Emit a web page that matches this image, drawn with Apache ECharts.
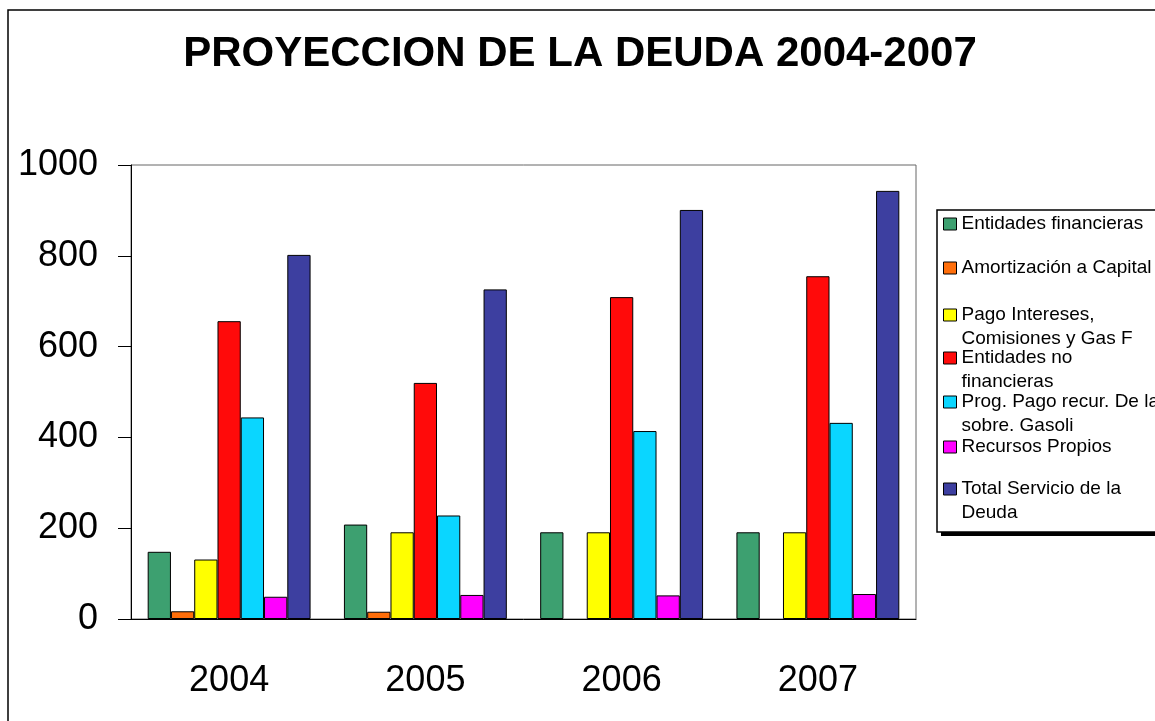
<!DOCTYPE html>
<html>
<head>
<meta charset="utf-8">
<script src="https://cdn.jsdelivr.net/npm/echarts@6/dist/echarts.min.js"></script>
<style>
html,body{margin:0;padding:0;background:#fff;}
#chart{width:1155px;height:721px;}
</style>
</head>
<body>
<div id="chart"></div>
<script>
const years = ['2004', '2005', '2006', '2007'];
const yTicks = [0, 200, 400, 600, 800, 1000];
const seriesNames = [
  'Entidades financieras',
  'Amortización a Capital',
  'Pago Intereses, Comisiones y Gas F',
  'Entidades no financieras',
  'Prog. Pago recur. De la sobre. Gasoli',
  'Recursos Propios',
  'Total Servicio de la Deuda'
];
const legendLines = [
  ['Entidades financieras'],
  ['Amortización a Capital'],
  ['Pago Intereses,', 'Comisiones y Gas F'],
  ['Entidades no', 'financieras'],
  ['Prog. Pago recur. De la', 'sobre. Gasoli'],
  ['Recursos Propios'],
  ['Total Servicio de la', 'Deuda']
];
const entidadesFinancieras = [148, 208, 191, 191];
const amortizacionCapital = [17, 16, null, null];
const pagoIntereses = [131, 191, 191, 191];
const entidadesNoFinancieras = [656, 520, 709, 755];
const progPagoRecur = [444, 228, 414, 432];
const recursosPropios = [49, 53, 52, 55];
const totalServicio = [802, 726, 901, 943];
const seriesValues = [entidadesFinancieras, amortizacionCapital, pagoIntereses, entidadesNoFinancieras, progPagoRecur, recursosPropios, totalServicio];
const colors = ['#3DA070', '#FF6E0A', '#FFFF00', '#FF0A0A', '#0AD6FF', '#FF00FF', '#3D3FA0'];
const legendIconCenters = [224, 268, 315, 358, 402, 447, 489];

const FONT = '"Liberation Sans", Arial, sans-serif';
const chart = echarts.init(document.getElementById('chart'), null, {renderer: 'canvas'});

const legends = seriesNames.map((name, i) => {
  const lines = legendLines[i];
  const multi = lines.length > 1;
  return {
    orient: 'vertical',
    left: 943,
    top: multi ? legendIconCenters[i] - 36 : legendIconCenters[i] - 12,
    padding: 0,
    itemWidth: 13,
    itemHeight: 12,
    selectedMode: false,
    data: [name],
    icon: 'rect',
    itemStyle: {borderColor: '#000', borderWidth: 1},
    formatter: () => multi ? '\n' + lines.join('\n') : lines[0],
    textStyle: {fontFamily: FONT, fontSize: 19, color: '#000', lineHeight: 24}
  };
});

const option = {
  backgroundColor: '#fff',
  animation: false,
  title: {
    text: 'PROYECCION DE LA DEUDA 2004-2007',
    left: 575, textAlign: 'center',
    top: 28,
    textStyle: {fontFamily: FONT, fontSize: 42, fontWeight: 'bold', color: '#000'}
  },
  legend: legends,
  grid: {
    left: 131, right: 239, top: 165, bottom: 102,
    show: true, borderColor: '#666', borderWidth: 1, containLabel: false
  },
  graphic: [
    {type: 'rect', z: -10, shape: {x: 8, y: 10, width: 1300, height: 900},
      style: {fill: 'none', stroke: '#000', lineWidth: 1.5}},
    {type: 'rect', z: -9, shape: {x: 941, y: 214, width: 300, height: 322},
      style: {fill: '#000'}},
    {type: 'rect', z: -8, shape: {x: 937, y: 210, width: 300, height: 322},
      style: {fill: '#fff', stroke: '#000', lineWidth: 1.5}}
  ],
  xAxis: {
    type: 'category',
    data: years,
    axisLine: {show: true, lineStyle: {color: '#000', width: 1}},
    axisTick: {show: false},
    axisLabel: {fontFamily: FONT, fontSize: 36, color: '#000', margin: 44}
  },
  yAxis: {
    type: 'value',
    min: yTicks[0], max: yTicks[yTicks.length - 1], interval: 200,
    splitLine: {show: false},
    axisLine: {show: true, lineStyle: {color: '#000', width: 1}},
    axisTick: {show: true, length: 13, lineStyle: {color: '#000'}},
    axisLabel: {fontFamily: FONT, fontSize: 36, color: '#000', margin: 33, padding: [8, 0, 0, 0], formatter: v => String(v)}
  },
  series: seriesNames.map((name, i) => ({
    name: name,
    type: 'bar',
    data: seriesValues[i],
    barGap: '0%',
    barCategoryGap: '17%',
    itemStyle: {color: colors[i], borderColor: '#000', borderWidth: 1}
  }))
};
chart.setOption(option);
</script>
</body>
</html>
